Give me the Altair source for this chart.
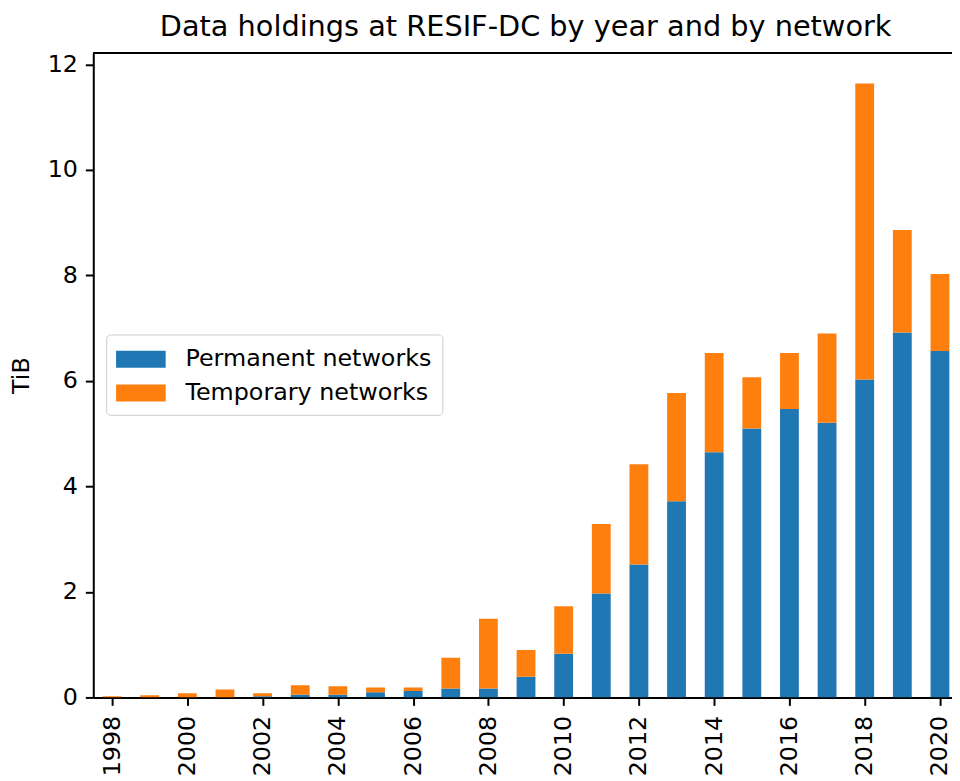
import altair as alt
import pandas as pd

years = list(range(1998, 2021))
permanent = [0.00, 0.00, 0.00, 0.00, 0.02, 0.05, 0.05, 0.10, 0.12, 0.17, 0.17, 0.39,
             0.83, 1.97, 2.52, 3.72, 4.65, 5.10, 5.47, 5.21, 6.03, 6.92, 6.57]
totals = [0.02, 0.04, 0.08, 0.15, 0.08, 0.23, 0.21, 0.19, 0.19, 0.75, 1.49, 0.90,
          1.73, 3.29, 4.42, 5.77, 6.53, 6.07, 6.53, 6.90, 11.64, 8.86, 8.03]
series_names = ["Permanent networks", "Temporary networks"]
series_colors = ["#1f77b4", "#ff7f0e"]
x_ticks = list(range(1998, 2021, 2))
y_ticks = [0, 2, 4, 6, 8, 10, 12]

df = pd.DataFrame({"year": years, "perm": permanent, "total": totals})

FONT = "DejaVu Sans"
W, H = 866, 650

color = alt.Color(
    "series:N",
    scale=alt.Scale(domain=series_names, range=series_colors),
    legend=alt.Legend(
        title=None, orient="none", legendX=13, legendY=284,
        labelFontSize=24, labelFont=FONT, labelColor="black", labelLimit=0,
        symbolType="M-1.667,-0.567H1.667V0.567H-1.667Z", symbolSize=900,
        symbolStrokeWidth=0, symbolOffset=10, labelOffset=30,
        strokeColor="#cccccc", fillColor="white", cornerRadius=4,
        padding=10, rowPadding=7,
    ),
)

xenc = alt.X(
    "x0:Q",
    scale=alt.Scale(domain=[1997.5, 2020.32], nice=False, zero=False),
    axis=alt.Axis(values=x_ticks, format="d", labelAngle=270, title=None, grid=False,
                  labelFontSize=24, labelFont=FONT, labelColor="black",
                  tickSize=8, tickWidth=2, tickColor="black",
                  domainColor="black", domainWidth=2, labelPadding=10),
)
yscale = alt.Scale(domain=[0, 12.22], nice=False)
yaxis = alt.Axis(values=y_ticks, title="TiB", grid=False, labelFontSize=24, labelFont=FONT,
                 labelColor="black", titleFontSize=24, titleFont=FONT, titleFontWeight="normal",
                 titleColor="black", tickSize=8, tickWidth=2, tickColor="black",
                 domainColor="black", domainWidth=2, labelPadding=8, titlePadding=14)

base = alt.Chart(df).transform_calculate(
    x0="datum.year - 0.25", x1="datum.year + 0.25", zero="0"
)

perm_bars = base.transform_calculate(series='"Permanent networks"').mark_bar(clip=True).encode(
    x=xenc, x2="x1:Q",
    y=alt.Y("zero:Q", scale=yscale, axis=yaxis), y2="perm:Q",
    color=color,
)
temp_bars = base.transform_calculate(series='"Temporary networks"').mark_bar(clip=True).encode(
    x=xenc, x2="x1:Q",
    y=alt.Y("perm:Q", scale=yscale, axis=yaxis), y2="total:Q",
    color=color,
)
top_spine = alt.Chart(df).mark_rule(color="black", strokeWidth=2).encode(
    x=alt.value(0), x2=alt.value(W), y=alt.value(0)
)

chart = alt.layer(perm_bars, temp_bars, top_spine).properties(
    width=W, height=H,
    title=alt.Title("Data holdings at RESIF-DC by year and by network",
                    fontSize=29, font=FONT, fontWeight="normal", color="black",
                    anchor="middle", dx=3, offset=10),
    autosize=alt.AutoSizeParams(type="none"),
    padding={"left": 86, "top": 42, "right": 0, "bottom": 80},
).configure_view(stroke=None).configure(background="white")

chart.save("out.html", embed_options={"renderer": "svg", "actions": False})
